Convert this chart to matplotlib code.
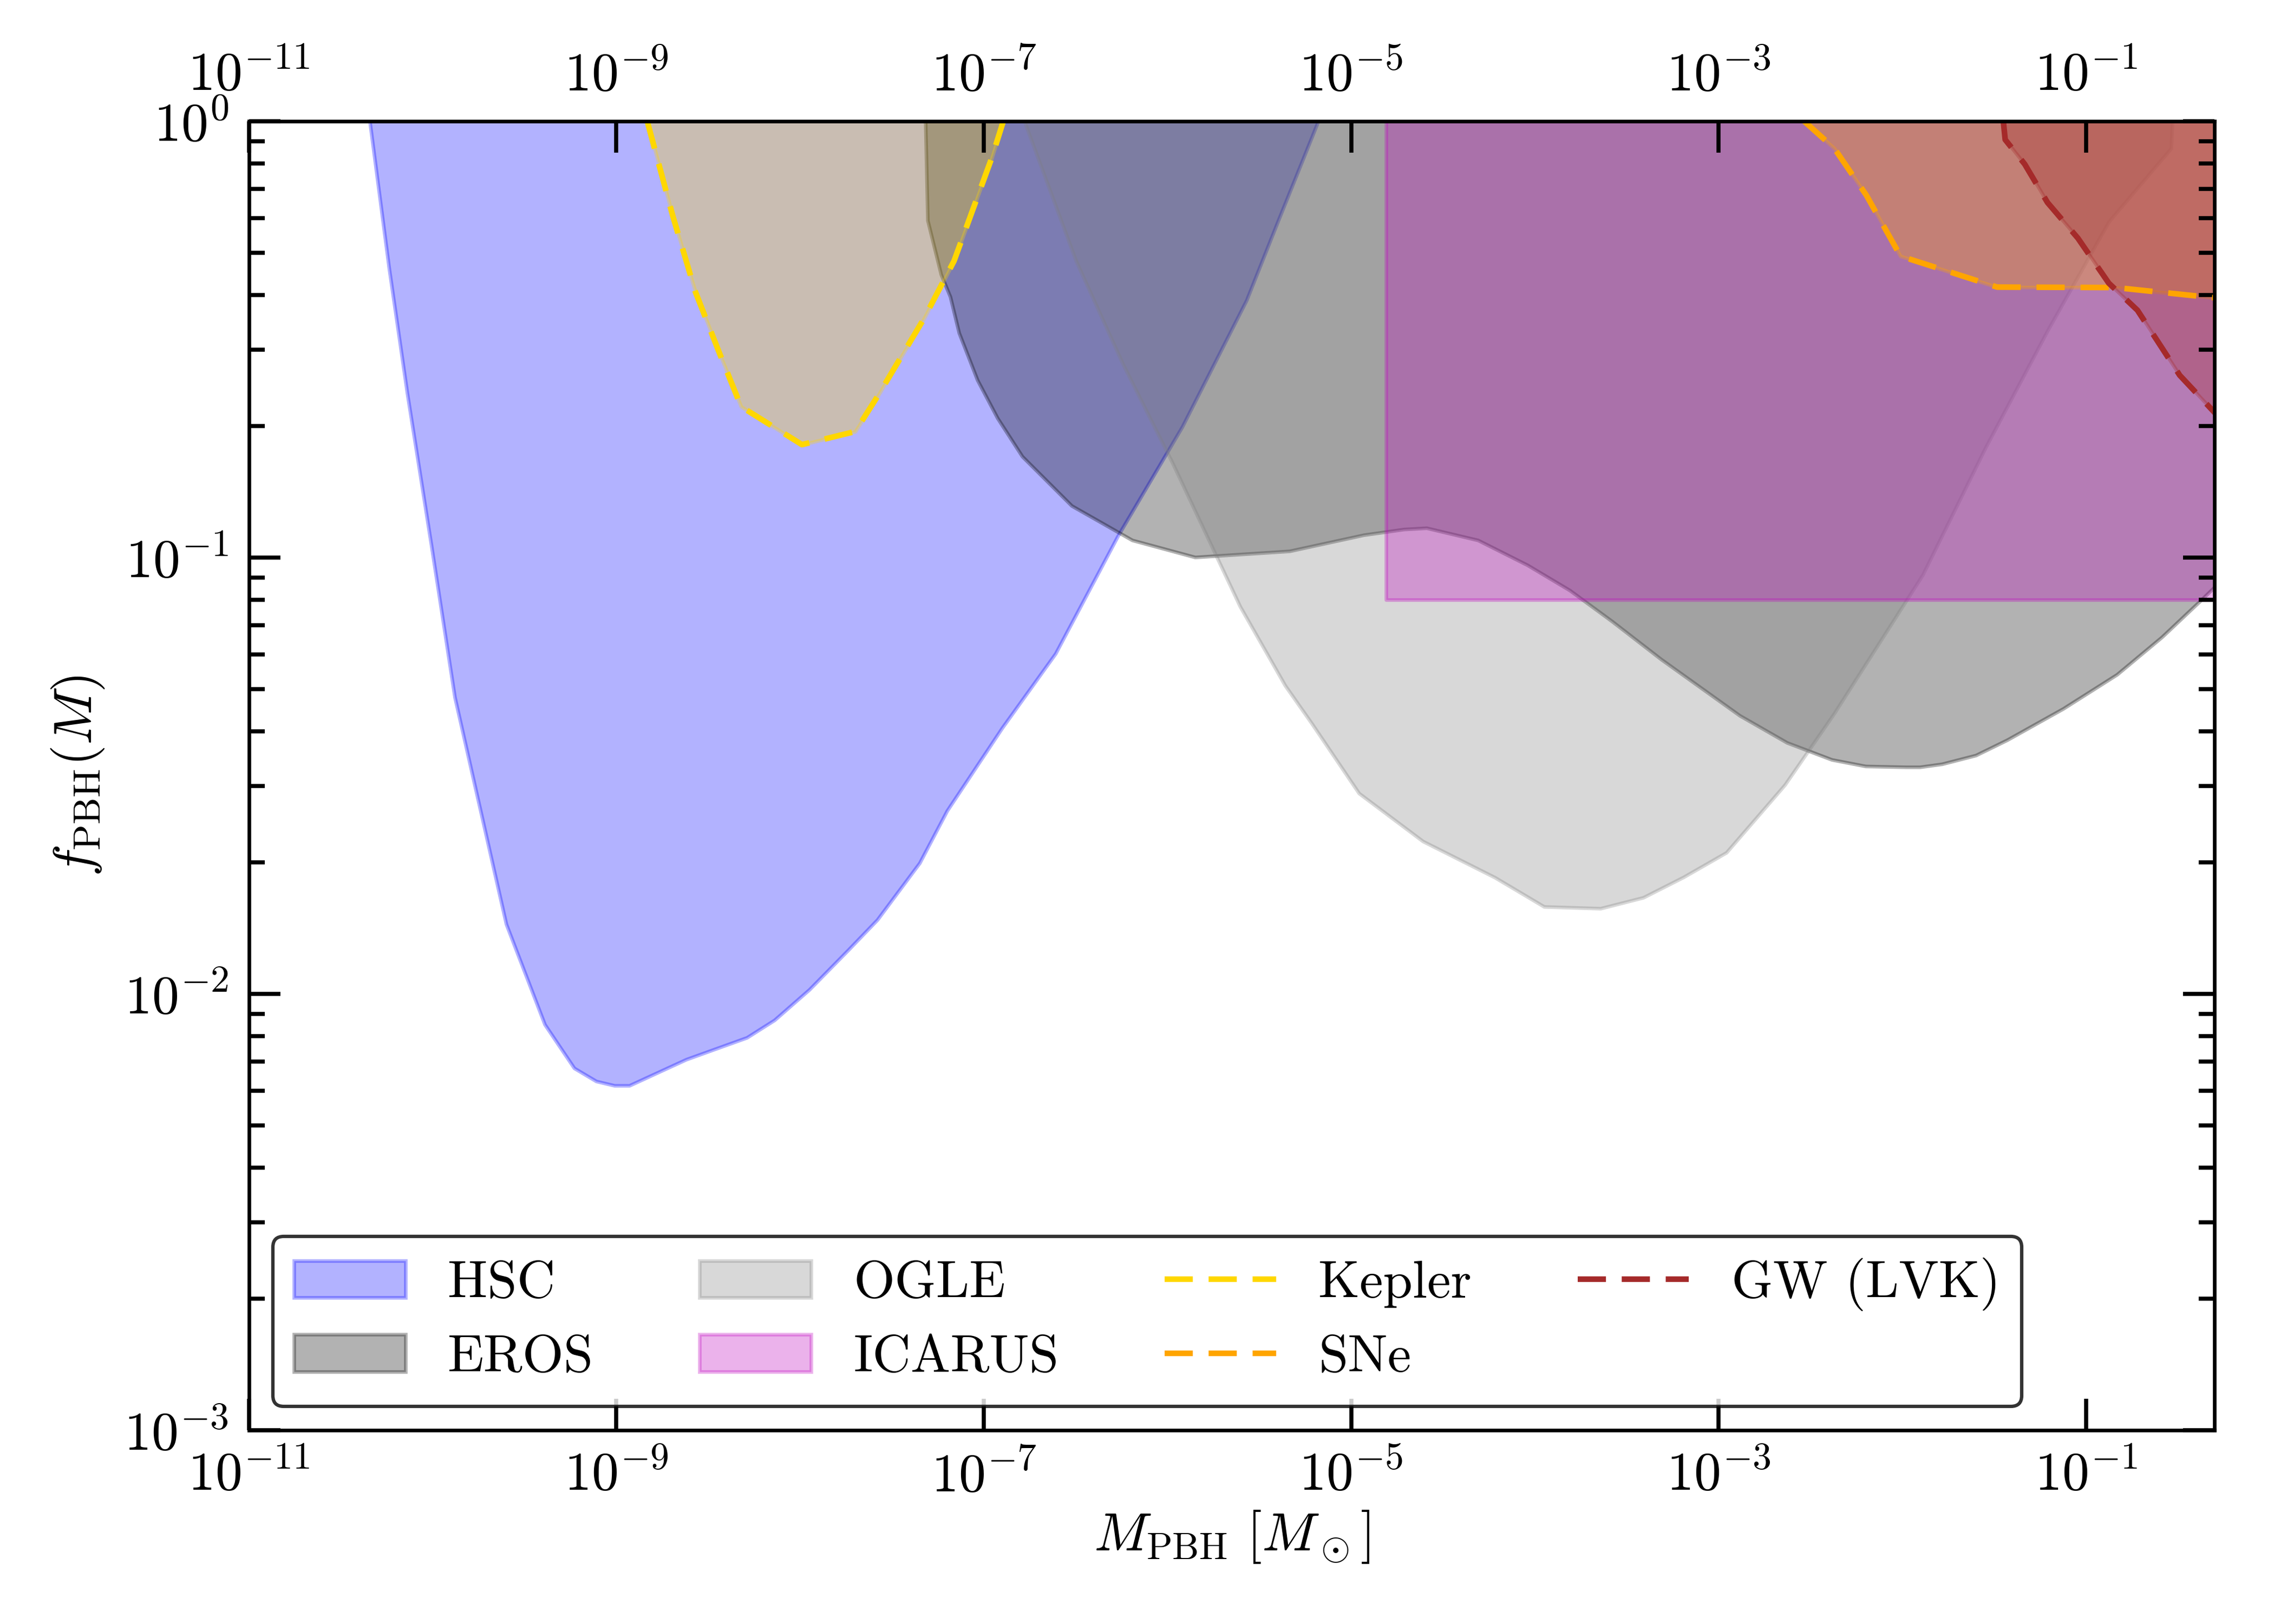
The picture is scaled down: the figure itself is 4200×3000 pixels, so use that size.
import numpy as np
import matplotlib
matplotlib.use('Agg')
import matplotlib.pyplot as plt
from matplotlib.patches import Rectangle

# constraint curves, as log10(M/Msun) and log10(f_PBH)
hsc_logm = [-10.343, -10.238, -10.139, -10.008, -9.88, -9.60, -9.39, -9.23, -9.11, -9.01, -8.93, -8.62,
            -8.29, -8.14, -7.95, -7.74, -7.58, -7.35, -7.20, -6.90, -6.61, -6.27, -5.92, -5.57, -5.40, -5.18]
hsc_logf = [0.0, -0.336, -0.623, -0.971, -1.32, -1.84, -2.07, -2.17, -2.20, -2.21, -2.21, -2.15,
            -2.10, -2.06, -1.99, -1.90, -1.83, -1.70, -1.58, -1.39, -1.22, -0.95, -0.70, -0.41, -0.23, 0.0]

eros_logm = [-7.318, -7.306, -7.233, -7.183, -7.135, -7.035, -6.926, -6.791, -6.522, -6.192, -5.85,
             -5.336, -4.932, -4.714, -4.59, -4.31, -4.041, -3.81, -3.58, -3.313, -2.885, -2.628,
             -2.384, -2.20, -1.98, -1.905, -1.784, -1.60, -1.43, -1.124, -0.832, -0.587, -0.378, -0.29]
eros_logf = [0.0, -0.227, -0.351, -0.402, -0.485, -0.593, -0.680, -0.768, -0.881, -0.960, -0.999,
             -0.985, -0.948, -0.935, -0.932, -0.960, -1.017, -1.075, -1.146, -1.233, -1.362, -1.424,
             -1.463, -1.478, -1.480, -1.480, -1.473, -1.453, -1.418, -1.346, -1.268, -1.182, -1.099, -1.063]

ogle_logm = [-6.779, -6.498, -6.242, -5.973, -5.605, -5.36, -5.215, -4.958, -4.61, -4.218, -3.95,
             -3.643, -3.41, -3.19, -2.958, -2.64, -2.371, -1.89, -1.55, -1.21, -0.876, -0.537, -0.53]
ogle_logf = [0.0, -0.320, -0.557, -0.783, -1.112, -1.293, -1.380, -1.540, -1.65, -1.733, -1.80,
             -1.804, -1.779, -1.732, -1.676, -1.521, -1.357, -1.04, -0.75, -0.48, -0.23, -0.062, 0.0]

icarus_m = [1.55e-5, 1.0]
icarus_f = 0.08

kepler_logm = [-8.832, -8.693, -8.569, -8.445, -8.321, -7.99, -7.70, -7.575, -7.327, -7.162, -6.956, -6.894]
kepler_logf = [0.0, -0.217, -0.392, -0.525, -0.654, -0.741, -0.711, -0.628, -0.453, -0.320, -0.083, 0.0]

sne_logm = [-2.534, -2.37, -2.195, -2.01, -1.484, -0.84, -0.29]
sne_logf = [0.0, -0.062, -0.170, -0.309, -0.380, -0.381, -0.405]

gw_logm = [-1.45, -1.44, -1.334, -1.21, -1.044, -0.876, -0.72, -0.49, -0.29]
gw_logf = [0.0, -0.042, -0.098, -0.186, -0.268, -0.371, -0.433, -0.582, -0.672]

plt.rcParams['font.family'] = 'serif'
plt.rcParams['font.serif'] = ['cmr10']
plt.rcParams['mathtext.fontset'] = 'cm'
plt.rcParams['axes.formatter.use_mathtext'] = True
plt.rcParams['font.size'] = 24


def fill_region(ax, logm, logf, color, label=None):
    m = 10 ** np.array(logm)
    f = 10 ** np.array(logf)
    ax.fill_between(m, f, 1, color=color, alpha=0.3, lw=1.6, label=label)
    return m, f


fig = plt.figure(figsize=(14, 10), dpi=300)
fig.subplots_adjust(left=0.1095, right=0.9738, top=0.9253, bottom=0.1193)
ax = fig.add_subplot(111)

fill_region(ax, hsc_logm, hsc_logf, 'blue', 'HSC')
fill_region(ax, eros_logm, eros_logf, 'k', 'EROS')
fill_region(ax, ogle_logm, ogle_logf, 'gray', 'OGLE')
ax.fill_between(icarus_m, icarus_f, 1, color='m', alpha=0.3, lw=1.6, label='ICARUS')

dash = (5, 2.8)
m, f = fill_region(ax, kepler_logm, kepler_logf, 'gold')
ax.plot(m, f, color='gold', lw=2.5, ls='--', dashes=dash, label='Kepler')
m, f = fill_region(ax, sne_logm, sne_logf, 'orange')
ax.plot(m, f, color='orange', lw=2.5, ls='--', dashes=dash, label='SNe')
m, f = fill_region(ax, gw_logm, gw_logf, 'brown')
ax.plot(m, f, color='brown', lw=2.5, ls='--', dashes=dash, label='GW (LVK)')

ax.set_xscale('log')
ax.set_yscale('log')
ax.set_xlim(1e-11, 0.5)
ax.set_ylim(1e-3, 1)
ax.set_xticks([1e-11, 1e-9, 1e-7, 1e-5, 1e-3, 1e-1])
ax.xaxis.set_minor_locator(matplotlib.ticker.NullLocator())

ax.tick_params(which='both', direction='in', top=True, right=True, labeltop=True)
ax.tick_params(which='major', length=14, width=1.8, pad=9)
ax.tick_params(which='minor', length=7, width=1.8)
for s in ax.spines.values():
    s.set_linewidth(1.6)

ax.set_xlabel(r'$M_{\rm PBH}\ [M_\odot]$', labelpad=3)
ax.set_ylabel(r'$f_{\rm PBH}(M)$', labelpad=8)

handles, labels = ax.get_legend_handles_labels()
order = ['HSC', 'EROS', 'OGLE', 'ICARUS', 'Kepler', 'SNe', 'GW (LVK)']
hl = {l: h for h, l in zip(handles, labels)}
# empty slot so the last column has the same height as the others
blank = Rectangle((0, 0), 1, 1, visible=False)
leg = ax.legend([hl[l] for l in order] + [blank], order + [''], loc='lower left', ncol=4,
                edgecolor='k', fancybox=True, borderaxespad=0.45, fontsize=23.5,
                handlelength=2.1)
leg.get_frame().set_linewidth(1.5)

fig.savefig('out.png', dpi=300)
